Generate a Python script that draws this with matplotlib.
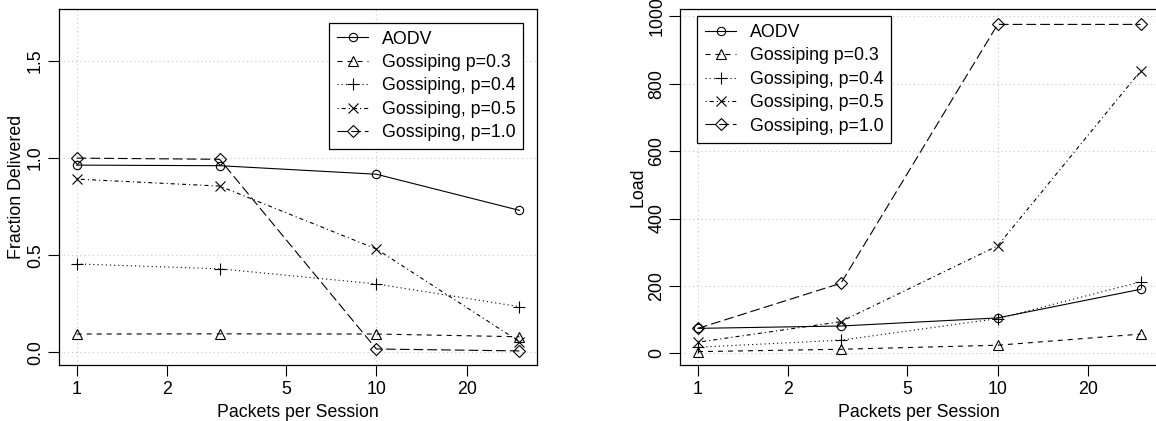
import numpy as np
import matplotlib.pyplot as plt

plt.rcParams['font.family'] = ['Liberation Sans', 'DejaVu Sans']
plt.rcParams['font.size'] = 12.8
plt.rcParams['lines.scale_dashes'] = False

# packets per session (x, log scale)
packets = [1, 3, 10, 30]

labels = ["AODV", "Gossiping p=0.3", "Gossiping, p=0.4",
          "Gossiping, p=0.5", "Gossiping, p=1.0"]

# fraction delivered
frac_aodv = [0.964, 0.961, 0.917, 0.731]
frac_g03 = [0.094, 0.095, 0.094, 0.080]
frac_g04 = [0.455, 0.430, 0.352, 0.235]
frac_g05 = [0.892, 0.856, 0.532, 0.055]
frac_g10 = [1.000, 0.994, 0.017, 0.007]

# load
load_aodv = [74, 81, 105, 190]
load_g03 = [5, 12, 24, 57]
load_g04 = [18, 39, 103, 212]
load_g05 = [33, 94, 319, 838]
load_g10 = [74, 208, 976, 976]

styles = [
    dict(marker='o', ms=6.0, linestyle='-'),
    dict(marker='^', ms=7.0, dashes=(3.6, 3.6)),
    dict(marker='+', ms=9.0, dashes=(0.8, 2.2)),
    dict(marker='x', ms=6.5, dashes=(0.8, 2.2, 2.9, 2.2)),
    dict(marker='D', ms=6.2, dashes=(7.0, 2.9)),
]

fig = plt.figure(figsize=(11.56, 4.21), dpi=100)
ax1 = fig.add_axes([59 / 1156, 1 - 365.3 / 421, 478 / 1156, 356.3 / 421])
ax2 = fig.add_axes([680.3 / 1156, 1 - 365.3 / 421, 478 / 1156, 356.3 / 421])


def draw(ax, series, ylabel, yticks, ytlabels, ylim, legloc, anchor):
    ax.set_xscale('log')
    ax.set_xlim(10 ** -0.059, 10 ** 1.536)
    ax.set_ylim(*ylim)
    for xv in [1, 10]:
        ax.axvline(xv, color='#c8c8c8', lw=0.8, dashes=(0.8, 2.2), zorder=0)
    for yv in yticks:
        ax.axhline(yv, color='#c8c8c8', lw=0.8, dashes=(0.8, 2.2), zorder=0)
    for vals, lab, st in zip(series, labels, styles):
        st = dict(st)
        ms = st.pop('ms')
        ax.plot(packets, vals, color='black', lw=0.8, label=lab,
                markersize=ms, markerfacecolor='none', markeredgecolor='black',
                markeredgewidth=0.8, **st)
    ax.set_xticks([1, 2, 5, 10, 20])
    ax.set_xticklabels(['1', '2', '5', '10', '20'])
    ax.xaxis.set_minor_locator(plt.NullLocator())
    ax.set_yticks(yticks)
    ax.set_yticklabels(ytlabels, rotation=90, va='center')
    ax.tick_params(length=7.7, width=0.8, pad=3.2, direction='out')
    ax.tick_params(axis='x', pad=3.6)
    ax.set_xlabel("Packets per Session", labelpad=4)
    ax.set_ylabel(ylabel, labelpad=1.5)
    for s in ax.spines.values():
        s.set_linewidth(0.9)
    leg = ax.legend(loc=legloc, bbox_to_anchor=anchor, borderaxespad=0,
                    fancybox=False, edgecolor='black', framealpha=1,
                    handlelength=1.75, handletextpad=0.75, labelspacing=0.36,
                    borderpad=0.45)
    leg.get_frame().set_linewidth(0.9)


draw(ax1, [frac_aodv, frac_g03, frac_g04, frac_g05, frac_g10],
     "Fraction Delivered", [0, 0.5, 1.0, 1.5], ['0.0', '0.5', '1.0', '1.5'],
     (-0.067, 1.768), 'upper right', (0.9713, 0.9616))
draw(ax2, [load_aodv, load_g03, load_g04, load_g05, load_g10],
     "Load", [0, 200, 400, 600, 800, 1000],
     ['0', '200', '400', '600', '800', '1000'],
     (-35.6, 1021.7), 'upper left', (0.0356, 0.9803))

fig.savefig("out.png", dpi=100)
